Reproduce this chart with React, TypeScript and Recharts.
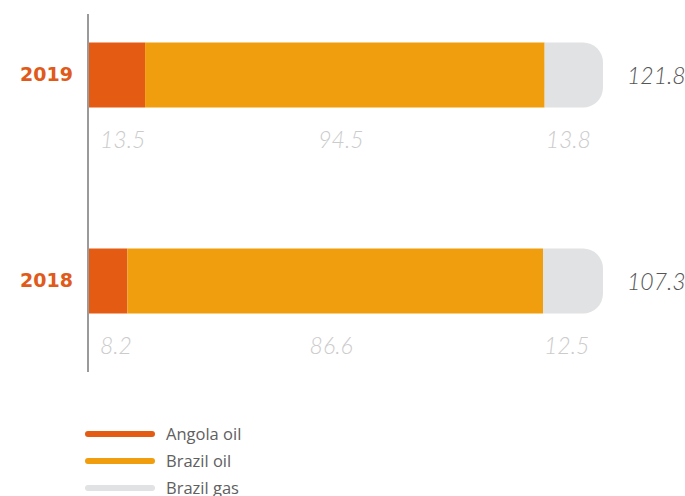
import React from 'react';
import { BarChart, Bar, XAxis, YAxis, LabelList } from 'recharts';

const YEARS = ['2019', '2018'];
const ANGOLA_OIL = [13.5, 8.2];
const BRAZIL_OIL = [94.5, 86.6];
const BRAZIL_GAS = [13.8, 12.5];

const SERIES = [
  { key: 'angola', name: 'Angola oil', color: '#E45B13' },
  { key: 'brazilOil', name: 'Brazil oil', color: '#F09D0E' },
  { key: 'brazilGas', name: 'Brazil gas', color: '#E1E2E3' },
];

const data = YEARS.map((year, i) => ({
  year,
  angola: ANGOLA_OIL[i],
  brazilOil: BRAZIL_OIL[i],
  brazilGas: BRAZIL_GAS[i],
  total: Math.round((ANGOLA_OIL[i] + BRAZIL_OIL[i] + BRAZIL_GAS[i]) * 10) / 10,
}));

const valueFont = { fontFamily: 'Lato, sans-serif', fontStyle: 'italic', fontWeight: 300 };

// labels under each segment; align = where text sits relative to the segment
const segLabel = (align: 'start' | 'middle', dx: number) => (props: any) => {
  const { x, y, width, height, value } = props;
  const tx = align === 'middle' ? x + width / 2 + dx : x + dx;
  return (
    <text x={tx} y={y + height + 31} textAnchor={align} dominantBaseline="central"
      fill="#CBCBCB" fontSize={23} style={valueFont}>
      {value}
    </text>
  );
};

const totalLabel = (props: any) => {
  const { x, y, width, height, value } = props;
  return (
    <text x={x + width + 24} y={y + height / 2} textAnchor="start" dominantBaseline="central"
      fill="#555" fontSize={23} style={valueFont}>
      {value}
    </text>
  );
};

export default function App() {
  return (
    <div style={{ position: 'absolute', left: 0, top: 0, width: 685, height: 496, background: '#fff', overflow: 'hidden' }}>
      <BarChart width={685} height={496} data={data} layout="vertical" stackOffset="expand"
        margin={{ top: 14, right: 82, left: 0, bottom: 124 }}>
        <XAxis type="number" domain={[0, 1]} hide />
        <YAxis type="category" dataKey="year" width={88} padding={{ top: -42.5, bottom: -11.5 }}
          axisLine={{ stroke: '#9a9a9a', strokeWidth: 2 }} tickLine={false} tickMargin={9}
          tick={{ fill: '#E05A1A', fontSize: 19, fontWeight: 700, fontFamily: 'DejaVu Sans, sans-serif' }} />
        <Bar dataKey="angola" name="Angola oil" stackId="a" fill={SERIES[0].color} barSize={65} isAnimationActive={false}>
          <LabelList dataKey="angola" content={segLabel('start', 12)} />
        </Bar>
        <Bar dataKey="brazilOil" name="Brazil oil" stackId="a" fill={SERIES[1].color} barSize={65} isAnimationActive={false}>
          <LabelList dataKey="brazilOil" content={segLabel('middle', -4)} />
        </Bar>
        <Bar dataKey="brazilGas" name="Brazil gas" stackId="a" fill={SERIES[2].color} barSize={65}
          radius={[0, 20, 20, 0]} isAnimationActive={false}>
          <LabelList dataKey="brazilGas" content={segLabel('start', 1)} />
          <LabelList dataKey="total" content={totalLabel} />
        </Bar>
      </BarChart>
      {/* legend drawn outside the chart so it doesn't shrink the plot area */}
      <div style={{ position: 'absolute', left: 85, top: 420 }}>
        {SERIES.map(s => (
          <div key={s.key} style={{ display: 'flex', alignItems: 'center', height: 27 }}>
            <span style={{ width: 70, height: 6, borderRadius: 3, background: s.color, display: 'inline-block' }} />
            <span style={{ marginLeft: 11, fontSize: 16.5, color: '#606060', fontFamily: '"Open Sans", sans-serif' }}>{s.name}</span>
          </div>
        ))}
      </div>
    </div>
  );
}
